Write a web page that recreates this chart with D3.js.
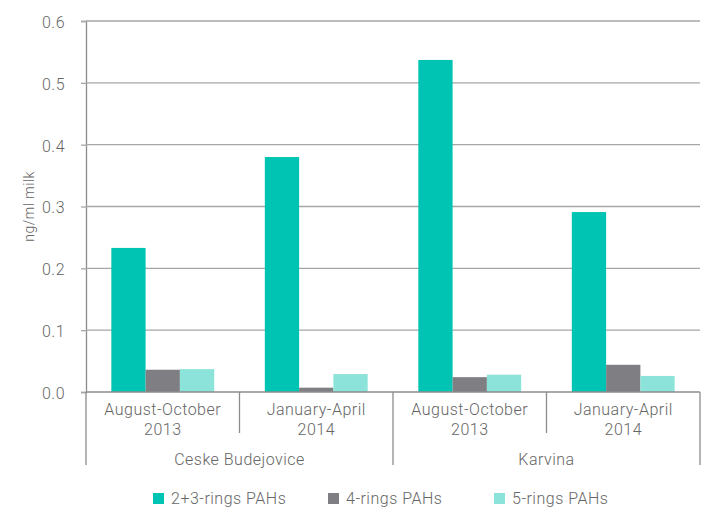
<!DOCTYPE html>
<html>
<head>
<meta charset="utf-8">
<script src="https://cdn.jsdelivr.net/npm/d3@7"></script>
<style>
  body { margin: 0; background: #fff; }
  svg text { font-family: 'Roboto', sans-serif; font-weight: 300; fill: #666; letter-spacing: 0.5px; }
</style>
</head>
<body>
<svg id="chart" width="707" height="510"></svg>
<script>
// ── Data ─────────────────────────────────────────────
const cities   = ['Ceske Budejovice', 'Karvina'];
const periods  = [['August-October', '2013'], ['January-April', '2014']];
const series   = ['2+3-rings PAHs', '4-rings PAHs', '5-rings PAHs'];
const colors   = ['#00c4b3', '#7f7f83', '#8ce3d9'];
// rows: city x period, cols: series
const values = [
  [0.233, 0.036, 0.037],
  [0.380, 0.007, 0.029],
  [0.537, 0.024, 0.028],
  [0.291, 0.044, 0.026]
];
const yTicks = [0, 0.1, 0.2, 0.3, 0.4, 0.5, 0.6];

// ── Layout ───────────────────────────────────────────
const svg = d3.select('#chart');
const M = { left: 86, right: 7, top: 21, bottom: 118 };
const W = 707, H = 510;
const plotB = 392;

const cats = [];
cities.forEach((c, ci) => periods.forEach((p, pi) => cats.push({ city: c, ci, period: p, i: ci * periods.length + pi })));

const x0 = d3.scaleBand().domain(cats.map(d => d.i)).range([M.left, W - M.right]).paddingInner(0.33).paddingOuter(0.165);
const xCat = d3.scaleBand().domain(cats.map(d => d.i)).range([M.left, W - M.right]);
const x1 = d3.scaleBand().domain(series.map((s, i) => i)).range([0, x0.bandwidth()]);
const y = d3.scaleLinear().domain([0, 0.6]).range([plotB, M.top]);

// gridlines + y axis
const yAxis = svg.append('g')
  .attr('transform', `translate(${M.left},0)`)
  .call(d3.axisLeft(y).tickValues(yTicks).tickFormat(d3.format('.1f')).tickSize(5).tickPadding(16));
yAxis.select('.domain').attr('stroke', '#8c8c8c').attr('stroke-width', 1.3);
yAxis.selectAll('.tick line').attr('stroke', '#a6a6a6').attr('stroke-width', 1.3);
yAxis.selectAll('.tick text').attr('font-size', 16).attr('dy', '0.4em').style('font-family', "'Roboto', sans-serif");

svg.append('g').selectAll('line').data(yTicks.filter(d => d > 0)).join('line')
  .attr('x1', M.left).attr('x2', W - M.right)
  .attr('y1', d => y(d)).attr('y2', d => y(d))
  .attr('stroke', '#a6a6a6').attr('stroke-width', 1.3);

// y title
svg.append('text')
  .attr('transform', `translate(34,${(plotB + M.top) / 2}) rotate(-90)`)
  .attr('text-anchor', 'middle')
  .attr('font-size', 14)
  .text('ng/ml milk');

// bars
const gBars = svg.append('g');
cats.forEach(c => {
  gBars.append('g').attr('transform', `translate(${x0(c.i)},0)`)
    .selectAll('rect').data(values[c.i]).join('rect')
    .attr('x', (d, i) => x1(i))
    .attr('width', x1.bandwidth())
    .attr('y', d => y(d))
    .attr('height', d => plotB - y(d))
    .attr('fill', (d, i) => colors[i]);
});

// x axis line
svg.append('line')
  .attr('x1', M.left).attr('x2', W - M.right)
  .attr('y1', plotB).attr('y2', plotB)
  .attr('stroke', '#8c8c8c').attr('stroke-width', 1.3);

// period separators (inner)
const gX = svg.append('g');
cats.forEach(c => {
  if (c.i % periods.length !== 0) {
    gX.append('line')
      .attr('x1', xCat(c.i)).attr('x2', xCat(c.i))
      .attr('y1', plotB).attr('y2', 433)
      .attr('stroke', '#8c8c8c').attr('stroke-width', 1.3);
  }
  gX.append('text')
    .attr('x', xCat(c.i) + xCat.bandwidth() / 2).attr('y', 415)
    .attr('text-anchor', 'middle').attr('font-size', 16)
    .text(c.period[0]);
  gX.append('text')
    .attr('x', xCat(c.i) + xCat.bandwidth() / 2).attr('y', 435)
    .attr('text-anchor', 'middle').attr('font-size', 16)
    .text(c.period[1]);
});

// city separators (outer)
const cityW = (W - M.right - M.left) / cities.length;
d3.range(cities.length + 1).forEach(k => {
  gX.append('line')
    .attr('x1', M.left + k * cityW).attr('x2', M.left + k * cityW)
    .attr('y1', plotB).attr('y2', 465)
    .attr('stroke', '#8c8c8c').attr('stroke-width', 1.3);
});
cities.forEach((c, k) => {
  gX.append('text')
    .attr('x', M.left + (k + 0.5) * cityW).attr('y', 465)
    .attr('text-anchor', 'middle').attr('font-size', 16)
    .text(c);
});

// legend
const legX = [153, 328, 494];
const gLeg = svg.append('g');
series.forEach((s, i) => {
  gLeg.append('rect').attr('x', legX[i]).attr('y', 493).attr('width', 11).attr('height', 11).attr('fill', colors[i]);
  gLeg.append('text').attr('x', legX[i] + 18).attr('y', 504).attr('font-size', 16).text(s);
});
</script>
</body>
</html>
